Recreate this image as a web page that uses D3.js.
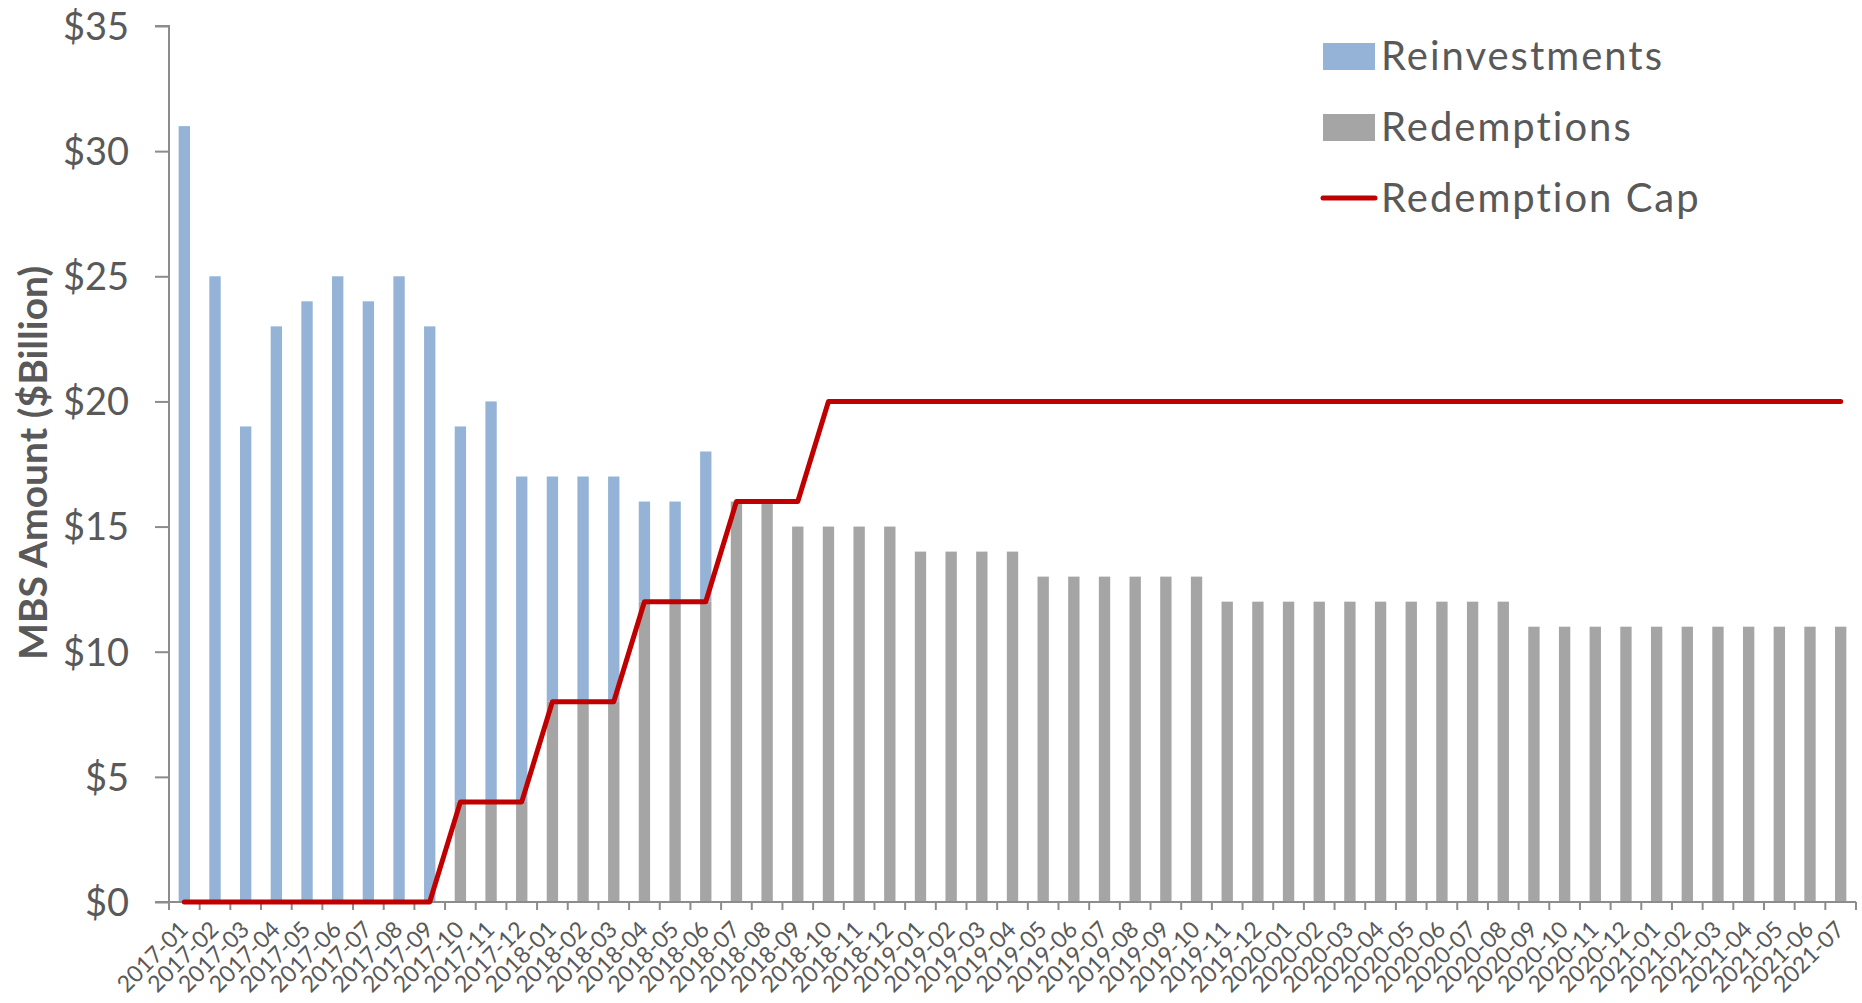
<!DOCTYPE html>
<html>
<head>
<meta charset="utf-8">
<script src="https://cdn.jsdelivr.net/npm/d3@7"></script>
<style>
  html, body { margin: 0; padding: 0; background: #fff; }
  svg { display: block; font-family: Lato, "Open Sans", sans-serif; }
</style>
</head>
<body>
<svg id="chart" width="1862" height="1003"></svg>
<script>
const months = [
  "2017-01","2017-02","2017-03","2017-04","2017-05","2017-06","2017-07","2017-08","2017-09","2017-10","2017-11","2017-12",
  "2018-01","2018-02","2018-03","2018-04","2018-05","2018-06","2018-07","2018-08","2018-09","2018-10","2018-11","2018-12",
  "2019-01","2019-02","2019-03","2019-04","2019-05","2019-06","2019-07","2019-08","2019-09","2019-10","2019-11","2019-12",
  "2020-01","2020-02","2020-03","2020-04","2020-05","2020-06","2020-07","2020-08","2020-09","2020-10","2020-11","2020-12",
  "2021-01","2021-02","2021-03","2021-04","2021-05","2021-06","2021-07"
];
const redemptions = [
  0,0,0,0,0,0,0,0,0,4,4,4,
  8,8,8,12,12,12,16,16,15,15,15,15,
  14,14,14,14,13,13,13,13,13,13,12,12,
  12,12,12,12,12,12,12,12,11,11,11,11,
  11,11,11,11,11,11,11
];
const reinvestments = [
  31,25,19,23,24,25,24,25,23,15,16,13,
  9,9,9,4,4,6,0,0,0,0,0,0,
  0,0,0,0,0,0,0,0,0,0,0,0,
  0,0,0,0,0,0,0,0,0,0,0,0,
  0,0,0,0,0,0,0
];
const redemptionCap = [
  0,0,0,0,0,0,0,0,0,4,4,4,
  8,8,8,12,12,12,16,16,16,20,20,20,
  20,20,20,20,20,20,20,20,20,20,20,20,
  20,20,20,20,20,20,20,20,20,20,20,20,
  20,20,20,20,20,20,20
];
const yTicks = [0,5,10,15,20,25,30,35];
const seriesNames = ["Reinvestments","Redemptions","Redemption Cap"];

const colors = { reinv: "#95B3D7", redem: "#A5A5A5", cap: "#C00000", axis: "#8C8C8C", text: "#595959" };

const svg = d3.select("#chart");
const pL = 169, pR = 1856, pT = 26, pB = 902;

const x = d3.scaleBand().domain(months).range([pL, pR]).paddingInner(0.63).paddingOuter(0.315);
const y = d3.scaleLinear().domain([0, 35]).range([pB, pT]);

const rows = months.map((m, i) => ({ m, red: redemptions[i], rei: reinvestments[i], cap: redemptionCap[i] }));

// Bars
const g = svg.append("g");
g.selectAll("rect.red").data(rows).join("rect")
  .attr("class", "red")
  .attr("x", d => x(d.m)).attr("width", x.bandwidth())
  .attr("y", d => y(d.red)).attr("height", d => y(0) - y(d.red))
  .attr("fill", colors.redem);
g.selectAll("rect.rei").data(rows.filter(d => d.rei > 0)).join("rect")
  .attr("class", "rei")
  .attr("x", d => x(d.m)).attr("width", x.bandwidth())
  .attr("y", d => y(d.red + d.rei)).attr("height", d => y(d.red) - y(d.red + d.rei))
  .attr("fill", colors.reinv);

// Y axis
const yAxis = d3.axisLeft(y).tickValues(yTicks).tickSize(14).tickPadding(26).tickFormat(d => "$" + d);
const ya = svg.append("g").attr("transform", `translate(${pL},0)`).call(yAxis);
ya.select(".domain").attr("stroke", colors.axis).attr("stroke-width", 2).attr("d", `M-14,${pT}H0V${pB}H-14`);
ya.selectAll(".tick line").attr("stroke", colors.axis).attr("stroke-width", 2);
ya.selectAll(".tick text").attr("fill", colors.text).attr("font-size", 38).attr("font-family", "Lato, sans-serif").attr("dy", "0.35em");

// X axis
const step = x.step();
const xa = svg.append("g");
xa.append("line").attr("x1", pL).attr("x2", pR).attr("y1", pB).attr("y2", pB)
  .attr("stroke", colors.axis).attr("stroke-width", 2);
xa.selectAll("line.tk").data(d3.range(months.length + 1)).join("line")
  .attr("class", "tk")
  .attr("x1", i => pL + i * step).attr("x2", i => pL + i * step)
  .attr("y1", pB).attr("y2", pB + 8)
  .attr("stroke", colors.axis).attr("stroke-width", 2);
xa.selectAll("text").data(months).join("text")
  .attr("transform", m => `translate(${x(m) + x.bandwidth() / 2 + 5},${pB + 29}) rotate(-45)`)
  .attr("text-anchor", "end")
  .attr("font-size", 23)
  .attr("fill", colors.text)
  .text(m => m);

// Cap line
const line = d3.line().x(d => x(d.m) + x.bandwidth() / 2).y(d => y(d.cap));
svg.append("path").datum(rows).attr("d", line)
  .attr("fill", "none").attr("stroke", colors.cap).attr("stroke-width", 5)
  .attr("stroke-linejoin", "round").attr("stroke-linecap", "round");

// Y title
svg.append("text")
  .attr("transform", `translate(47,463) rotate(-90)`)
  .attr("text-anchor", "middle")
  .attr("font-size", 39).attr("font-weight", "bold")
  .attr("fill", colors.text)
  .text("MBS Amount ($Billion)");

// Legend
const lg = svg.append("g");
const lx = 1323, rowY = [56, 127, 198];
lg.append("rect").attr("x", lx).attr("y", rowY[0] - 13).attr("width", 52).attr("height", 27).attr("fill", colors.reinv);
lg.append("rect").attr("x", lx).attr("y", rowY[1] - 13).attr("width", 52).attr("height", 27).attr("fill", colors.redem);
lg.append("line").attr("x1", lx).attr("x2", lx + 52).attr("y1", rowY[2]).attr("y2", rowY[2])
  .attr("stroke", colors.cap).attr("stroke-width", 5).attr("stroke-linecap", "round");
lg.selectAll("text").data(seriesNames).join("text")
  .attr("x", lx + 58).attr("y", (d, i) => rowY[i]).attr("dy", "0.35em")
  .attr("font-size", 40).attr("letter-spacing", 2).attr("fill", colors.text)
  .text(d => d);
</script>
</body>
</html>
